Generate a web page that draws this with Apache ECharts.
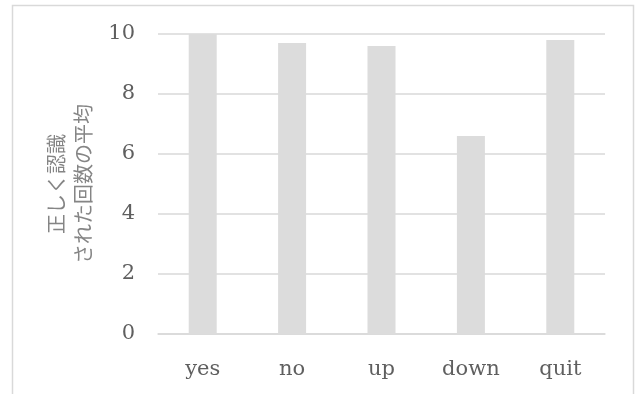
<!DOCTYPE html>
<html>
<head>
<meta charset="utf-8">
<script src="https://cdn.jsdelivr.net/npm/echarts@6/dist/echarts.min.js"></script>
<style>
  html, body { margin: 0; padding: 0; background: #ffffff; }
  #chart { width: 637px; height: 394px; }
</style>
</head>
<body>
<div id="chart"></div>
<script>
// Commands tested
const categories = ['yes', 'no', 'up', 'down', 'quit'];
// Average number of correct recognitions per command
const averages = [10, 9.7, 9.6, 6.6, 9.8];
const yTicks = [0, 2, 4, 6, 8, 10];
const yAxisTitle = '正しく認識\nされた回数の平均';

const serif = '"DejaVu Serif", "Liberation Serif", serif';
const chart = echarts.init(document.getElementById('chart'), null, { renderer: 'canvas' });

chart.setOption({
  animation: false,
  backgroundColor: '#ffffff',
  graphic: [{
    type: 'rect',
    shape: { x: 12.5, y: 5.5, width: 621, height: 420 },
    style: { fill: 'none', stroke: '#d9d9d9', lineWidth: 1.5 },
    silent: true
  }],
  grid: { left: 158, right: 32, top: 34, bottom: 60, containLabel: false },
  xAxis: {
    type: 'category',
    data: categories,
    axisLine: { show: true, lineStyle: { color: '#d9d9d9', width: 1.5 } },
    axisTick: { show: false },
    axisLabel: { color: '#5f5f5f', fontFamily: serif, fontSize: 21, margin: 25 }
  },
  yAxis: {
    type: 'value',
    min: yTicks[0],
    max: yTicks[yTicks.length - 1],
    interval: 2,
    name: yAxisTitle,
    nameLocation: 'middle',
    nameGap: 57,
    nameRotate: 90,
    nameTextStyle: {
      color: '#858585',
      fontFamily: '"Noto Sans CJK JP", sans-serif',
      fontSize: 20,
      lineHeight: 27.5,
      align: 'center'
    },
    axisLine: { show: false },
    axisTick: { show: false },
    splitLine: { lineStyle: { color: '#d9d9d9', width: 1.5 } },
    axisLabel: { color: '#5f5f5f', fontFamily: serif, fontSize: 21, margin: 23 }
  },
  series: [{
    type: 'bar',
    data: averages,
    barWidth: 28,
    itemStyle: { color: '#dcdcdc' },
    silent: true
  }]
});
</script>
</body>
</html>
